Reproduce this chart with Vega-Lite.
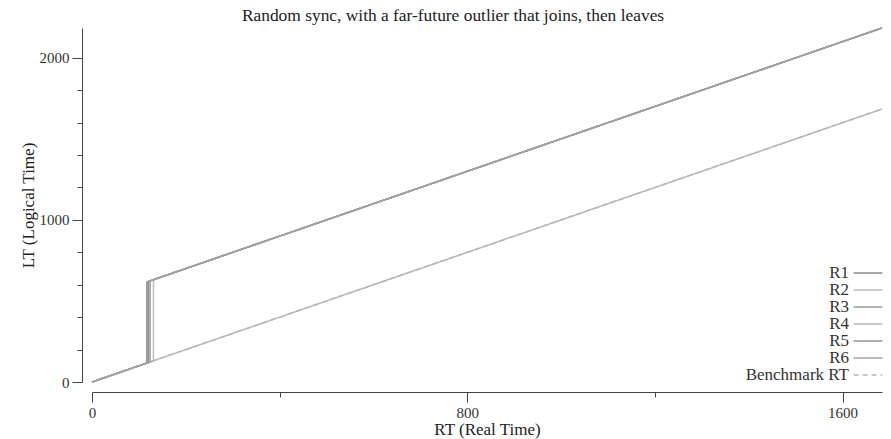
{
  "$schema": "https://vega.github.io/schema/vega-lite/v6.json",
  "width": 790,
  "height": 354,
  "autosize": "none",
  "padding": {"left": 92, "top": 28, "right": 9, "bottom": 57},
  "config": {"view": {"stroke": null}, "font": "Liberation Serif"},
  "title": {"text": "Random sync, with a far-future outlier that joins, then leaves", "fontSize": 17.4, "font": "Liberation Serif", "fontWeight": "normal", "color": "#222", "anchor": "middle", "dx": -34, "offset": -13, "baseline": "alphabetic"},
  "data": {"values": [
    {"series": "Benchmark RT", "rt": 0, "lt": 0, "i": 0},
    {"series": "Benchmark RT", "rt": 1684, "lt": 1684, "i": 1},
    {"series": "R1", "rt": 0, "lt": 0, "i": 0},
    {"series": "R1", "rt": 117, "lt": 117, "i": 1},
    {"series": "R1", "rt": 117, "lt": 617, "i": 2},
    {"series": "R1", "rt": 1684, "lt": 2184, "i": 3},
    {"series": "R2", "rt": 0, "lt": 0, "i": 0},
    {"series": "R2", "rt": 131, "lt": 131, "i": 1},
    {"series": "R2", "rt": 131, "lt": 631, "i": 2},
    {"series": "R2", "rt": 1684, "lt": 2184, "i": 3},
    {"series": "R3", "rt": 0, "lt": 0, "i": 0},
    {"series": "R3", "rt": 119, "lt": 119, "i": 1},
    {"series": "R3", "rt": 119, "lt": 619, "i": 2},
    {"series": "R3", "rt": 1684, "lt": 2184, "i": 3},
    {"series": "R4", "rt": 0, "lt": 0, "i": 0},
    {"series": "R4", "rt": 1684, "lt": 1684, "i": 1},
    {"series": "R5", "rt": 0, "lt": 0, "i": 0},
    {"series": "R5", "rt": 121, "lt": 121, "i": 1},
    {"series": "R5", "rt": 121, "lt": 621, "i": 2},
    {"series": "R5", "rt": 1684, "lt": 2184, "i": 3},
    {"series": "R6", "rt": 0, "lt": 0, "i": 0},
    {"series": "R6", "rt": 124, "lt": 124, "i": 1},
    {"series": "R6", "rt": 124, "lt": 624, "i": 2},
    {"series": "R6", "rt": 1684, "lt": 2184, "i": 3}
  ]},
  "mark": {"type": "line", "strokeWidth": 1.5},
  "encoding": {
    "x": {
      "field": "rt", "type": "quantitative",
      "scale": {"domain": [0, 1684], "nice": false, "zero": true},
      "axis": {
        "values": [0, 400, 800, 1200, 1600],
        "format": "d",
        "labelExpr": "datum.value % 800 === 0 ? datum.label : ''",
        "labelFlush": false,
        "labelOverlap": false,
        "offset": 10,
        "tickSize": {"condition": {"test": "datum.value % 800 === 0", "value": 10}, "value": 5},
        "grid": false,
        "title": "RT (Real Time)",
        "titleFontSize": 17,
        "titleFontWeight": "normal",
        "titleFont": "Liberation Serif",
        "titleColor": "#222",
        "labelFont": "Liberation Serif",
        "labelFontSize": 15,
        "labelColor": "#333",
        "labelPadding": 3,
        "titlePadding": 1,
        "domainColor": "#444",
        "tickColor": "#444"
      }
    },
    "y": {
      "field": "lt", "type": "quantitative",
      "scale": {"domain": [0, 2184], "nice": false, "zero": true},
      "axis": {
        "values": [0, 200, 400, 600, 800, 1000, 1200, 1400, 1600, 1800, 2000],
        "format": "d",
        "labelExpr": "datum.value % 1000 === 0 ? datum.label : ''",
        "labelFlush": false,
        "labelOverlap": false,
        "offset": 10,
        "tickSize": {"condition": {"test": "datum.value % 1000 === 0", "value": 10}, "value": 5},
        "grid": false,
        "title": "LT (Logical Time)",
        "titleFontSize": 17,
        "titleFontWeight": "normal",
        "titleFont": "Liberation Serif",
        "titleColor": "#222",
        "labelFont": "Liberation Serif",
        "labelFontSize": 15,
        "labelColor": "#333",
        "labelPadding": 3,
        "titlePadding": 2,
        "domainColor": "#444",
        "tickColor": "#444"
      }
    },
    "color": {
      "field": "series", "type": "nominal",
      "scale": {
        "domain": ["R1", "R2", "R3", "R4", "R5", "R6", "Benchmark RT"],
        "range": ["#8c8c8c", "#bdbdbd", "#9a9a9a", "#b8b8b8", "#939393", "#a3a3a3", "#b4b4b4"]
      },
      "legend": {
        "title": null,
        "orient": "none",
        "legendX": 767,
        "legendY": 236,
        "padding": 0,
        "symbolType": "M-1.8,0H1.8",
        "symbolSize": 256,
        "symbolStrokeWidth": 1.5,
        "rowPadding": 0,
        "labelAlign": "right",
        "labelOffset": -28,
        "labelFont": "Liberation Serif",
        "labelFontSize": 17,
        "labelColor": "#333",
        "labelLimit": 0
      }
    },
    "strokeDash": {
      "field": "series", "type": "nominal",
      "scale": {
        "domain": ["R1", "R2", "R3", "R4", "R5", "R6", "Benchmark RT"],
        "range": [[1, 0], [1, 0], [1, 0], [1, 0], [1, 0], [1, 0], [5, 4]]
      },
      "legend": {
        "title": null,
        "orient": "none",
        "legendX": 767,
        "legendY": 236,
        "padding": 0,
        "symbolType": "M-1.8,0H1.8",
        "symbolSize": 256,
        "symbolStrokeWidth": 1.5,
        "rowPadding": 0,
        "labelAlign": "right",
        "labelOffset": -28,
        "labelFont": "Liberation Serif",
        "labelFontSize": 17,
        "labelColor": "#333",
        "labelLimit": 0
      }
    },
    "order": {"field": "i", "type": "quantitative"}
  }
}
